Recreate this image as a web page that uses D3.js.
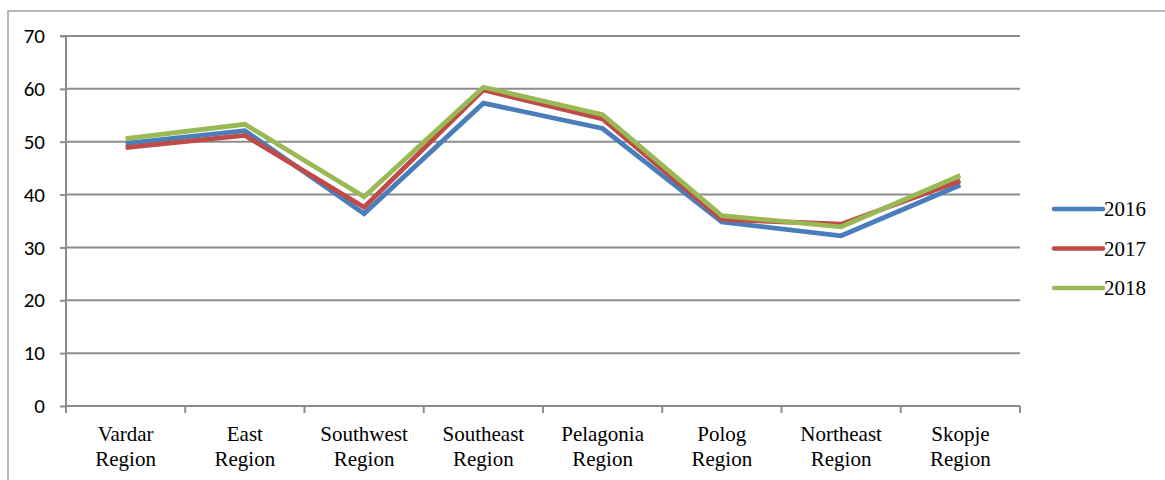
<!DOCTYPE html>
<html><head><meta charset="utf-8">
<script src="https://cdn.jsdelivr.net/npm/d3@7"></script>
<style>
body{margin:0;background:#fff}
svg{display:block}
</style>
</head><body>
<svg id="c" width="1165" height="480"></svg>
<script>
const categories = ["Vardar Region","East Region","Southwest Region","Southeast Region","Pelagonia Region","Polog Region","Northeast Region","Skopje Region"];
const years = ["2016","2017","2018"];
const values2016 = [49.7, 52.1, 36.4, 57.3, 52.5, 34.8, 32.2, 41.8];
const values2017 = [48.9, 51.2, 37.6, 59.8, 54.3, 35.3, 34.4, 42.6];
const values2018 = [50.6, 53.3, 39.6, 60.3, 55.1, 36.0, 33.9, 43.6];
const yTicks = [0,10,20,30,40,50,60,70];
const colors = ["#4a7ebb","#be4b48","#98b954"];

const SERIF = "Liberation Serif";
const SANS = "Carlito";

const svg = d3.select("#c");
svg.append("rect").attr("x",8).attr("y",11).attr("width",1200).attr("height",500)
  .attr("fill","none").attr("stroke","#a0a0a0").attr("stroke-width",1.5);

const x0 = 66, x1 = 1020, yTop = 36, yBot = 406;
const xBand = d3.scaleBand().domain(categories).range([x0,x1]).padding(0);
const y = d3.scaleLinear().domain([0,70]).range([yBot,yTop]);

// gridlines
svg.append("g").selectAll("line").data(yTicks.filter(d=>d>0)).join("line")
  .attr("x1",x0).attr("x2",x1).attr("y1",d=>y(d)).attr("y2",d=>y(d))
  .attr("stroke","#8c8c8c").attr("stroke-width",2);

// y axis (lines from d3 axis, labels drawn separately)
const yAxis = svg.append("g").attr("transform",`translate(${x0},0)`)
  .call(d3.axisLeft(y).tickValues(yTicks).tickSize(6).tickFormat(""));
yAxis.attr("font-family",null).attr("font-size",null);
yAxis.selectAll("text").remove();
yAxis.select(".domain").attr("stroke","#8c8c8c").attr("stroke-width",2).attr("d",`M-6,${yTop}H0V${yBot}`);
yAxis.selectAll(".tick line").attr("stroke","#8c8c8c").attr("stroke-width",2);

svg.append("g").selectAll("text").data(yTicks).join("text")
  .attr("x",x0-21).attr("y",d=>y(d)).attr("dy","0.34em").attr("text-anchor","end")
  .attr("font-family",SANS).attr("font-size",21).attr("fill","#000")
  .style("font-family",SANS).style("font-size","21px")
  .text(d=>d);

// x axis
const xAxis = svg.append("g").attr("transform",`translate(0,${yBot})`)
  .call(d3.axisBottom(xBand).tickSize(0).tickFormat(""));
xAxis.attr("font-family",null).attr("font-size",null);
xAxis.selectAll("text").remove();
xAxis.select(".domain").attr("stroke","#8c8c8c").attr("stroke-width",2).attr("d",`M${x0},0H${x1}`);
const bounds = categories.map(c=>xBand(c)).concat([x1]);
svg.append("g").selectAll("line").data(bounds).join("line")
  .attr("x1",d=>d).attr("x2",d=>d).attr("y1",yBot).attr("y2",yBot+7)
  .attr("stroke","#8c8c8c").attr("stroke-width",2);

// category labels: two text elements per category
const cx = d=>xBand(d)+xBand.bandwidth()/2;
const lblG = svg.append("g");
lblG.selectAll("text.l1").data(categories).join("text").attr("class","l1")
  .attr("x",cx).attr("y",441).attr("text-anchor","middle")
  .attr("font-family",SERIF).attr("font-size",21).attr("fill","#000")
  .style("font-family",SERIF).style("font-size","21px")
  .text(d=>d.split(" ")[0]);
lblG.selectAll("text.l2").data(categories).join("text").attr("class","l2")
  .attr("x",cx).attr("y",465.5).attr("text-anchor","middle")
  .attr("font-family",SERIF).attr("font-size",21).attr("fill","#000")
  .style("font-family",SERIF).style("font-size","21px")
  .text(d=>d.split(" ")[1]);

// lines
const series = [values2016, values2017, values2018];
const line = d3.line().x((d,i)=>cx(categories[i])).y(d=>y(d));
svg.append("g").selectAll("path").data(series).join("path")
  .attr("d",d=>line(d)).attr("fill","none").attr("stroke",(d,i)=>colors[i])
  .attr("stroke-width",4.8).attr("stroke-linejoin","miter").attr("stroke-linecap","butt");

// legend
const lg = svg.append("g").selectAll("g").data(years).join("g")
  .attr("transform",(d,i)=>`translate(1054,${209+i*39.5})`);
lg.append("line").attr("x1",0).attr("x2",49).attr("y1",0).attr("y2",0)
  .attr("stroke",(d,i)=>colors[i]).attr("stroke-width",4.5).attr("stroke-linecap","round");
lg.append("text").attr("x",50).attr("y",7)
  .attr("font-family",SERIF).attr("font-size",21).attr("fill","#000")
  .style("font-family",SERIF).style("font-size","21px")
  .text(d=>d);
</script>
</body></html>
